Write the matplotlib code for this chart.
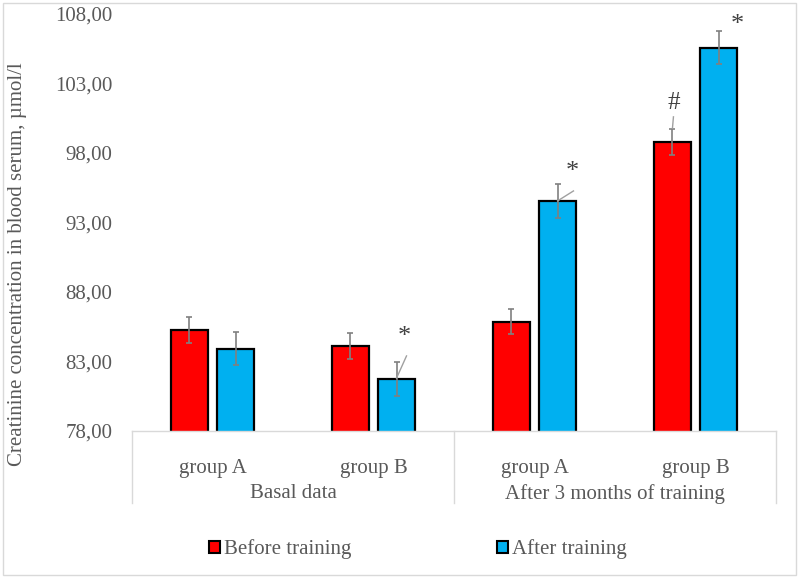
import numpy as np
import matplotlib.pyplot as plt
from matplotlib.patches import Patch, Rectangle
from matplotlib.transforms import blended_transform_factory

plt.rcParams['font.family'] = ['Liberation Serif', 'DejaVu Serif']

groups = ["group A", "group B", "group A", "group B"]
periods = ["Basal data", "After 3 months of training"]
before = [85.27, 84.12, 85.86, 98.81]
after = [83.92, 81.74, 94.55, 105.58]
before_err = [0.91, 0.91, 0.90, 0.92]
after_err = [1.19, 1.22, 1.21, 1.20]
y_ticks = [78, 83, 88, 93, 98, 103, 108]

text_col = "#595959"
red = "#FF0000"
blue = "#00B0F0"

fig = plt.figure(figsize=(7.99, 5.78), dpi=100)
ax = fig.add_axes([132 / 799, 1 - 431 / 578, 644 / 799, 417 / 578])

x = np.arange(len(groups))
w = 0.23
off = 0.143
err_kw = dict(ecolor="#808080", elinewidth=1.2, capsize=2.5, capthick=1.2)
ax.bar(x - off, before, w, yerr=before_err, color=red, edgecolor="black",
       linewidth=1.6, error_kw=err_kw)
ax.bar(x + off, after, w, yerr=after_err, color=blue, edgecolor="black",
       linewidth=1.6, error_kw=err_kw)

ax.set_ylim(78, 108)
ax.set_xlim(-0.5, 3.5)
ax.set_yticks(y_ticks)
ax.set_yticklabels([f"{v:.2f}".replace(".", ",") for v in y_ticks])
ax.tick_params(axis="y", length=0, pad=14, labelsize=15, labelcolor=text_col)
ax.set_xticks([])
for s in ["top", "right", "left"]:
    ax.spines[s].set_visible(False)
ax.spines["bottom"].set_color("#d9d9d9")
ax.spines["bottom"].set_linewidth(1.0)

# significance marks
star_kw = dict(fontsize=19, color="#404040", ha="center", va="center")
ax.text(1.19, 84.75, "*", **star_kw)
ax.plot([1.143, 1.205], [81.8, 83.4], color="#a0a0a0", lw=1)
ax.text(2.236, 96.6, "*", **star_kw)
ax.plot([2.143, 2.242], [94.55, 95.27], color="#a0a0a0", lw=1)
ax.text(2.863, 101.6, "#", fontsize=18, color="#404040", ha="center", va="center")
ax.plot([2.857, 2.863], [99.8, 100.6], color="#a0a0a0", lw=1)
ax.text(3.26, 107.2, "*", **star_kw)

# two-level category axis
tr = blended_transform_factory(ax.transData, fig.transFigure)
for i, g in enumerate(groups):
    ax.text(i, 1 - 469 / 578, g, transform=tr, ha="center", va="center",
            fontsize=15, color=text_col)
for j, p in enumerate(periods):
    ax.text(2 * j + 0.5, 1 - 494 / 578, p, transform=tr, ha="center", va="center",
            fontsize=15, color=text_col)
for xv in [-0.5, 1.5, 3.5]:
    ax.plot([xv, xv], [1 - 431 / 578, 1 - 503 / 578], transform=tr,
            color="#d9d9d9", lw=1, clip_on=False)

fig.text(0.022, 1 - 264 / 578, "Creatinine concentration in blood serum, \u00b5mol/l",
         rotation=90, ha="center", va="center", fontsize=15, color=text_col)

handles = [Patch(facecolor=red, edgecolor="black", linewidth=1.5, label="Before training"),
           Patch(facecolor=blue, edgecolor="black", linewidth=1.5, label="After training")]
fig.legend(handles=handles, loc="center", bbox_to_anchor=(0.523, 0.050), ncol=2,
           frameon=False, fontsize=15, labelcolor=text_col, handlelength=0.5,
           handleheight=0.5, handletextpad=0.2, columnspacing=7.0)

fig.patches.append(Rectangle((3 / 799, 3 / 578), 793 / 799, 572 / 578,
                             transform=fig.transFigure, fill=False,
                             edgecolor="#d9d9d9", lw=1))

fig.savefig("out.png", dpi=100)
